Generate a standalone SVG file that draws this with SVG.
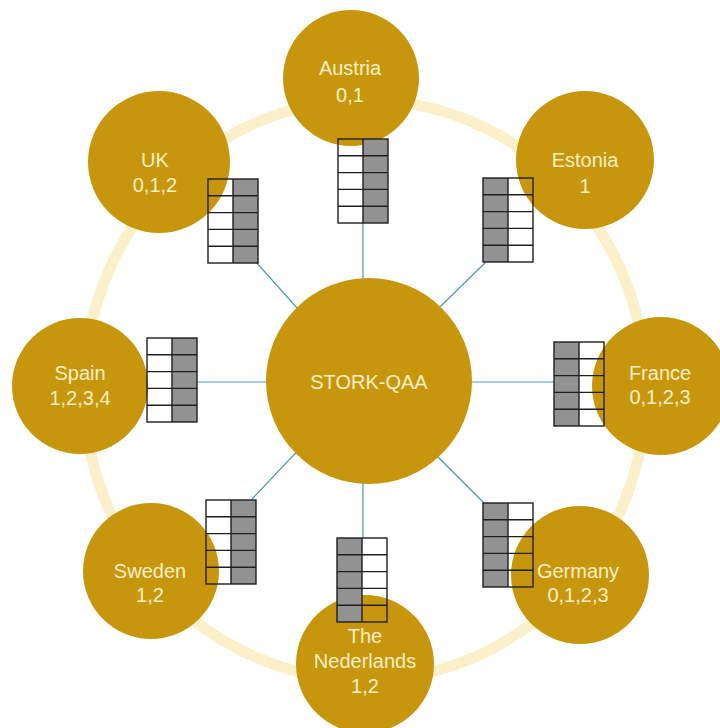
<svg xmlns="http://www.w3.org/2000/svg" xmlns:xlink="http://www.w3.org/1999/xlink" width="720" height="728" viewBox="0 0 720 728">
  <style>
    .node { fill: #C8960C; }
    .label { font-family: "Liberation Sans", Arial, sans-serif; font-size: 20px; fill: #FCF0C4; text-anchor: middle; }
    .link { stroke: #4E9BA8; stroke-width: 1.2; fill: none; }
    .grid { stroke: #1E1E1E; stroke-width: 1.4; fill: none; }
    .cell-on { fill: #929292; }
  </style>
  <defs>
    <!-- 2 x 5 level table: plain left column, shaded right column -->
    <g id="tbl-wg">
      <rect class="cell-on" x="25" y="0" width="25" height="84"/>
      <rect class="grid" x="0" y="0" width="50" height="84"/>
      <path class="grid" d="M0 16.8H50M0 33.6H50M0 50.4H50M0 67.2H50M25 0V84"/>
    </g>
    <!-- 2 x 5 level table: shaded left column, plain right column -->
    <g id="tbl-gw">
      <rect class="cell-on" x="0" y="0" width="25" height="84"/>
      <rect class="grid" x="0" y="0" width="50" height="84"/>
      <path class="grid" d="M0 16.8H50M0 33.6H50M0 50.4H50M0 67.2H50M25 0V84"/>
    </g>
  </defs>

  <rect width="720" height="728" fill="#FFFFFF"/>

  <!-- pale ring behind the member states -->
  <ellipse cx="365" cy="390" rx="281" ry="290" fill="none" stroke="#FBF0CA" stroke-width="11"/>

  <g id="connectors">
    <line class="link" x1="363" y1="222" x2="363" y2="382"/>
    <line class="link" x1="256" y1="262" x2="363" y2="382"/>
    <line class="link" x1="486" y1="262" x2="363" y2="382"/>
    <line class="link" x1="197" y1="382" x2="363" y2="382"/>
    <line class="link" x1="554" y1="382" x2="363" y2="382"/>
    <line class="link" x1="252" y1="499" x2="363" y2="382"/>
    <line class="link" x1="363" y1="538" x2="363" y2="382"/>
    <line class="link" x1="484" y1="503" x2="363" y2="382"/>
  </g>

  <g id="stork-qaa">
    <circle class="node" cx="369" cy="381" r="103"/>
    <text class="label" x="369" y="389">STORK-QAA</text>
  </g>

  <g id="austria">
    <circle class="node" cx="351" cy="78" r="68"/>
    <text class="label" x="350" y="75">Austria</text>
    <text class="label" x="350" y="102">0,1</text>
    <use xlink:href="#tbl-wg" x="338" y="139"/>
  </g>

  <g id="uk">
    <circle class="node" cx="159" cy="162" r="71"/>
    <text class="label" x="155" y="167">UK</text>
    <text class="label" x="155" y="192">0,1,2</text>
    <use xlink:href="#tbl-wg" x="208" y="179"/>
  </g>

  <g id="estonia">
    <circle class="node" cx="585" cy="160" r="69"/>
    <text class="label" x="585" y="167">Estonia</text>
    <text class="label" x="585" y="193">1</text>
    <use xlink:href="#tbl-gw" x="483" y="178"/>
  </g>

  <g id="spain">
    <circle class="node" cx="80" cy="386" r="68"/>
    <text class="label" x="80" y="380">Spain</text>
    <text class="label" x="80" y="405">1,2,3,4</text>
    <use xlink:href="#tbl-wg" x="147" y="338"/>
  </g>

  <g id="france">
    <circle class="node" cx="661" cy="386" r="69"/>
    <text class="label" x="660" y="380">France</text>
    <text class="label" x="660" y="404">0,1,2,3</text>
    <use xlink:href="#tbl-gw" x="554" y="342"/>
  </g>

  <g id="sweden">
    <circle class="node" cx="151" cy="571" r="68"/>
    <text class="label" x="150" y="578">Sweden</text>
    <text class="label" x="150" y="602">1,2</text>
    <use xlink:href="#tbl-wg" x="206" y="500"/>
  </g>

  <g id="germany">
    <circle class="node" cx="580" cy="575" r="69"/>
    <text class="label" x="578" y="578">Germany</text>
    <text class="label" x="578" y="602">0,1,2,3</text>
    <use xlink:href="#tbl-gw" x="483" y="503"/>
  </g>

  <g id="the-nederlands">
    <circle class="node" cx="365" cy="664" r="69"/>
    <text class="label" x="365" y="643">The</text>
    <text class="label" x="365" y="668">Nederlands</text>
    <text class="label" x="365" y="693">1,2</text>
    <use xlink:href="#tbl-gw" x="337" y="538"/>
  </g>
</svg>
